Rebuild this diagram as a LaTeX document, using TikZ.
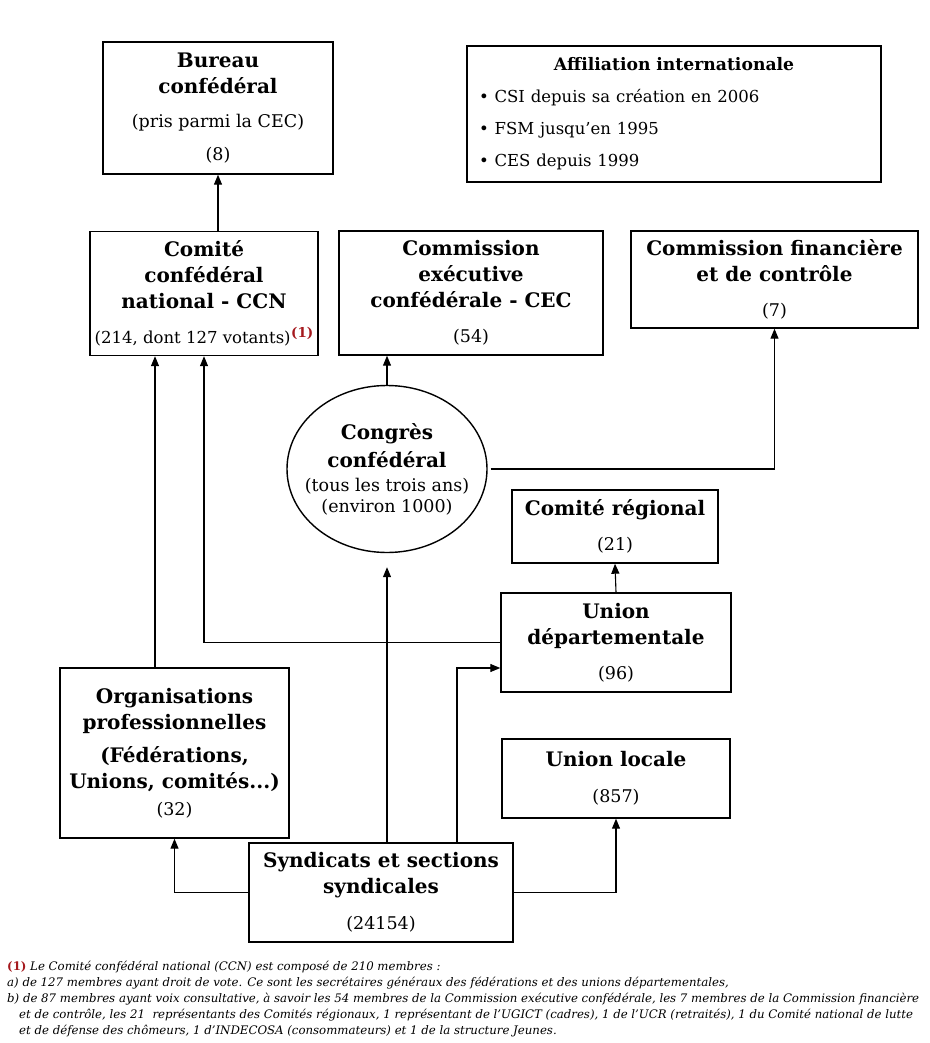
\documentclass[tikz,border=0pt]{standalone}
\usepackage{fontspec}
\setmainfont{DejaVu Serif}
\usetikzlibrary{shapes.geometric,arrows.meta}
\definecolor{rougenote}{RGB}{165,25,30}

\tikzset{
		boite/.style={draw,line width=1.4pt,align=center,inner sep=0pt,
			font=\fontsize{17.5}{26}\selectfont},
		fleche/.style={-{Triangle[length=10pt,width=8pt]},line width=1.1pt},
		note/.style={font=\fontsize{11.75}{16}\selectfont\itshape,align=left,
			inner sep=0pt,anchor=north west}
	}
\newcommand{\titre}[1]{{\fontsize{20}{26}\selectfont\bfseries #1}}
\newcommand{\appel}{\hspace{0.5pt}\raisebox{6pt}{\fontsize{13.5}{14}\selectfont\bfseries\color{rougenote}(1)}}

\begin{document}
\begin{tikzpicture}[x=1pt,y=-1pt]
				\useasboundingbox (0,0) rectangle (929,1043);
				% les instances
				\node[boite,minimum width=230pt,minimum height=132pt] (bureau) at (218,108)
					{\titre{Bureau}\\ \titre{confédéral}\\[8pt] (pris parmi la CEC)\\[7pt] (8)};
				\node[boite,minimum width=414pt,minimum height=136pt,text width=390pt,align=left] (affil) at (674,114)
					{\makebox[\linewidth]{{\fontsize{17.2}{26}\selectfont\bfseries Affiliation internationale}}\\[6pt]
					{\fontsize{16.5}{26}\selectfont\textbullet\ CSI depuis sa création en 2006}\\[6pt]
					{\fontsize{16.5}{26}\selectfont\textbullet\ FSM jusqu’en 1995}\\[6pt]
					{\fontsize{16.5}{26}\selectfont\textbullet\ CES depuis 1999}};
				\node[boite,minimum width=228pt,minimum height=124pt] (ccn) at (204,293.5)
					{\titre{Comité}\\ \titre{confédéral}\\ \titre{national - CCN}\\[9pt] {\fontsize{16.5}{26}\selectfont(214, dont 127 votants)}\appel};
				\node[boite,minimum width=264pt,minimum height=124pt] (cec) at (471,293)
					{\titre{Commission}\\ \titre{exécutive}\\ \titre{confédérale - CEC}\\[9pt] (54)};
				\node[boite,minimum width=287pt,minimum height=97pt] (cfc) at (774.5,279.5)
					{\titre{Commission financière}\\ \titre{et de contrôle}\\[9pt] (7)};
				\node[boite,ellipse,inner xsep=-14pt,minimum width=200pt,minimum height=167pt] (congres) at (387,469)
					{\titre{Congrès}\\[2pt] \titre{confédéral}\\[-2pt] (tous les trois ans)\\[-5pt] (environ 1000)};
				\node[boite,minimum width=206pt,minimum height=73pt] (cr) at (615,526.5)
					{\titre{Comité régional}\\[9pt] (21)};
				\node[boite,minimum width=230pt,minimum height=99pt] (ud) at (616,642.5)
					{\titre{Union}\\ \titre{départementale}\\[9pt] (96)};
				\node[boite,minimum width=229pt,minimum height=170pt] (orgpro) at (174.5,753)
					{\titre{Organisations}\\ \titre{professionnelles}\\[7pt] \titre{(Fédérations,}\\ \titre{Unions, comités...)}\\[1pt] (32)};
				\node[boite,minimum width=228pt,minimum height=79pt] (ul) at (616,778.5)
					{\titre{Union locale}\\[10pt] (857)};
				\node[boite,minimum width=264pt,minimum height=99pt] (syndicats) at (381,892.5)
					{\titre{Syndicats et sections}\\ \titre{syndicales}\\[10pt] (24154)};
				% les liaisons
				\draw[fleche] (bureau.south |- ccn.north) -- (bureau.south);
				\draw[fleche] (congres.north) -- (congres.north |- cec.south);
				\draw[fleche] ([xshift=3pt]congres.east) -| (cfc.south);
				\draw[fleche] (ud.north) -- (cr.south);
				\draw[fleche] ([xshift=-19.5pt]orgpro.north) -- ([xshift=-19.5pt]orgpro.north |- ccn.south);
				\draw[fleche] (ud.west) -| (ccn.south);
				\draw[fleche,shorten >=14pt] (syndicats.north -| congres.south) -- (congres.south);
				\draw[fleche] ([xshift=76pt]syndicats.north) |- ([yshift=-25.5pt]ud.west);
				\draw[fleche] (syndicats.west) -| (orgpro.south);
				\draw[fleche] (syndicats.east) -| (ul.south);
				% la note
				\node[note] (renvoi) at (7,961)
					{{\upshape\bfseries\color{rougenote}(1)} Le Comité confédéral national (CCN) est composé de 210 membres :\\
					a) de 127 membres ayant droit de vote. Ce sont les secrétaires généraux des fédérations et des unions départementales,\\
					b) de 87 membres ayant voix consultative, à savoir les 54 membres de la Commission exécutive confédérale, les 7 membres de la Commission financière\\
					\hspace*{12pt}et de contrôle, les 21~ représentants des Comités régionaux, 1 représentant de l’UGICT (cadres), 1 de l’UCR (retraités), 1 du Comité national de lutte\\
					\hspace*{12pt}et de défense des chômeurs, 1 d’INDECOSA (consommateurs) et 1 de la structure Jeunes.};
			\end{tikzpicture}
\end{document}
